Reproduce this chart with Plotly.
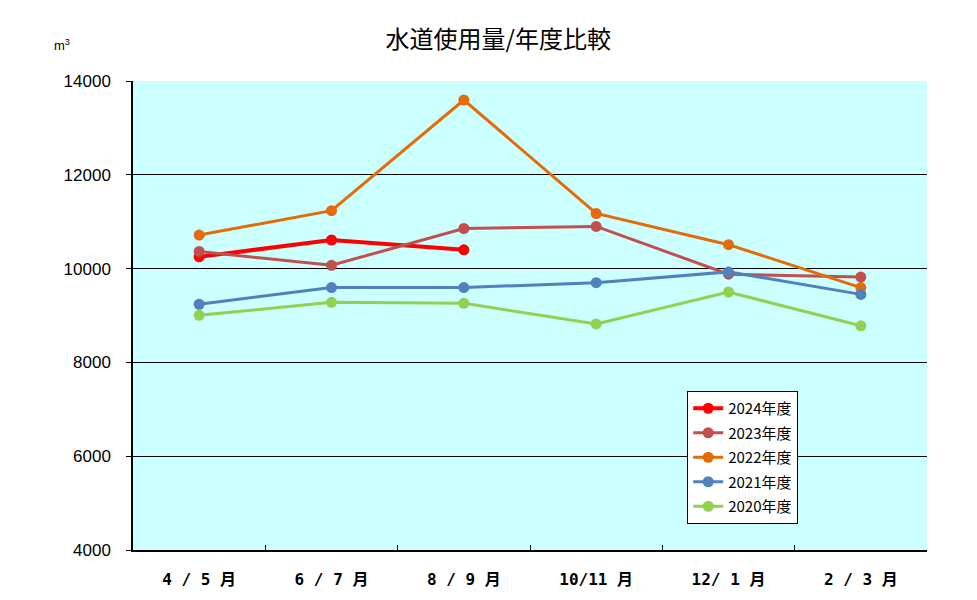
import plotly.graph_objects as go

categories = ["4 / 5 月", "6 / 7 月", "8 / 9 月", "10/11 月", "12/ 1 月", "2 / 3 月"]
y2024 = [10250, 10610, 10400, None, None, None]
y2023 = [10365, 10070, 10855, 10900, 9880, 9820]
y2022 = [10715, 11235, 13595, 11175, 10510, 9595]
y2021 = [9240, 9595, 9595, 9700, 9930, 9450]
y2020 = [9005, 9280, 9260, 8820, 9500, 8780]
ytick_vals = [4000, 6000, 8000, 10000, 12000, 14000]
ytick_text = ["4000", "6000", "8000", "10000", "12000", "14000"]

series = [
    ("2024年度", y2024, "#FF0000", 4),
    ("2023年度", y2023, "#C0504D", 3),
    ("2022年度", y2022, "#E36C09", 3),
    ("2021年度", y2021, "#4F81BD", 3),
    ("2020年度", y2020, "#92D050", 3),
]

fig = go.Figure()
for i, (name, vals, color, lw) in enumerate(series):
    fig.add_trace(go.Scatter(
        x=categories, y=vals, name=name, mode="lines+markers",
        line=dict(color=color, width=lw),
        marker=dict(color=color, size=11),
        legendgroup=str(i),
        connectgaps=False,
    ))

fig.update_layout(
    width=977, height=600,
    margin=dict(l=133, r=50, t=81, b=50),
    paper_bgcolor="white",
    plot_bgcolor="#CCFFFF",
    title=dict(text="水道使用量/年度比較", x=0.51, xanchor="center", y=1 - 40 / 600, yanchor="middle",
               font=dict(family="Noto Sans CJK JP", size=24, color="black")),
    showlegend=True,
    legend=dict(x=0.698, y=0.339, xanchor="left", yanchor="top",
                bgcolor="white", bordercolor="black", borderwidth=1,
                font=dict(family="Noto Sans CJK JP", size=15, color="black"),
                tracegroupgap=2, itemwidth=30),
    font=dict(family="Liberation Sans", color="black"),
)

fig.update_xaxes(
    type="category",
    showgrid=False,
    showline=True, linecolor="black", linewidth=1.5,
    ticks="inside", tickson="boundaries", ticklen=5, tickcolor="black",
    ticklabelstandoff=14,
    tickfont=dict(family="DejaVu Sans Mono, Noto Sans CJK JP", size=16, color="black", weight="bold"),
    range=[-0.5, 5.5],
)
fig.update_yaxes(
    range=[4000, 14000],
    tickvals=ytick_vals, ticktext=ytick_text,
    showgrid=True, gridcolor="black", gridwidth=1,
    showline=True, linecolor="black", linewidth=1.5,
    ticks="outside", ticklen=5, tickcolor="black",
    ticklabelstandoff=12,
    tickfont=dict(family="Liberation Sans", size=17, color="black"),
    zeroline=False,
)

fig.add_annotation(text="m<sup>3</sup>", xref="paper", yref="paper",
                   x=(52 - 133) / 794, y=(550 - 45) / 469, xanchor="left", yanchor="middle",
                   showarrow=False, font=dict(family="Liberation Sans", size=13, color="black"))

fig.write_html("out.html")
